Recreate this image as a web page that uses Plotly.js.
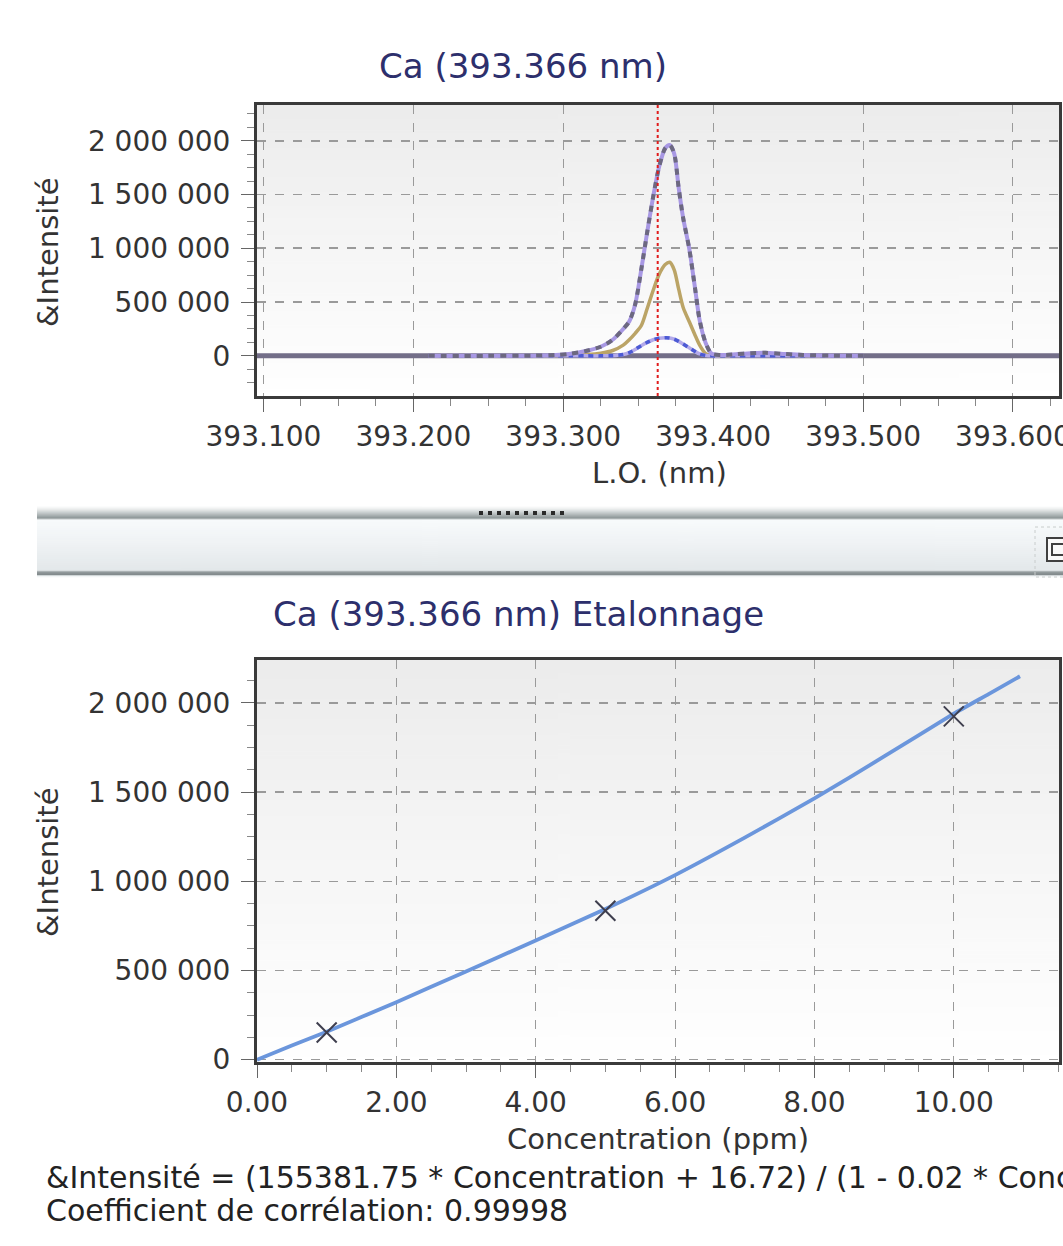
<!DOCTYPE html>
<html>
<head>
<meta charset="utf-8">
<script src="https://cdn.plot.ly/plotly-3.0.1.min.js"></script>
<style>
  html, body { margin: 0; padding: 0; background: #ffffff; }
  #chart { width: 1063px; height: 1246px; }
</style>
</head>
<body>
<div id="chart"></div>
<script>
// ---------------- DATA ----------------
// Spectrum (top chart): wavelength in nm
var wavelength = [393.210, 393.250, 393.280, 393.295, 393.305, 393.315, 393.325, 393.333, 393.340, 393.344,
                  393.348, 393.352, 393.356, 393.360, 393.364, 393.368, 393.371, 393.374, 393.377, 393.380,
                  393.384, 393.388, 393.391, 393.395, 393.399, 393.405, 393.415, 393.425, 393.435, 393.445,
                  393.460, 393.480, 393.500];
// Standard 10 ppm spectrum
var intensityStd10 = [0, 0, 2000, 8000, 20000, 45000, 85000, 150000, 250000, 320000,
                      480000, 800000, 1150000, 1480000, 1760000, 1930000, 1960000, 1880000, 1560000, 1280000,
                      1000000, 620000, 330000, 120000, 20000, 8000, 15000, 25000, 28000, 20000,
                      8000, 2000, 0];
// Standard 5 ppm spectrum
var intensityStd5 = [0, 0, 0, 2000, 5000, 12000, 25000, 50000, 100000, 150000,
                     210000, 280000, 440000, 610000, 760000, 850000, 870000, 800000, 620000, 450000,
                     320000, 190000, 100000, 20000, 0, 0, 5000, 10000, 12000, 8000,
                     3000, 0, 0];
// Standard 1 ppm spectrum
var intensityStd1 = [0, 0, 0, 0, 0, 0, 0, 2000, 12000, 30000,
                     60000, 95000, 125000, 150000, 163000, 168000, 166000, 155000, 135000, 110000,
                     75000, 40000, 18000, 4000, 0, 0, 0, 0, 0, 0,
                     0, 0, 0];
// Blank baseline (flat at zero over the full window)
var blankWavelength = [393.095, 393.631];
var blankIntensity = [0, 0];
// Analysis line position
var analysisLine = 393.363;

// Calibration (bottom chart)
var curveConc = [0, 0.5, 1, 2, 3, 4, 5, 6, 7, 8, 9, 10, 10.5, 10.95];
var curveIntensity = [0, 80000, 157000, 322000, 495000, 668000, 845000, 1035000, 1245000, 1465000,
                      1700000, 1940000, 2050000, 2150000];
var stdConc = [1, 5, 10];
var stdIntensity = [152000, 835000, 1925000];

// Texts
var topTitle = "Ca (393.366 nm)";
var bottomTitle = "Ca (393.366 nm) Etalonnage";
var yTitle = "&Intensité";
var xTitleTop = "L.O. (nm)";
var xTitleBottom = "Concentration (ppm)";
var equationText = "&Intensité = (155381.75 * Concentration + 16.72) / (1 - 0.02 * Concentration)";
var correlationText = "Coefficient de corrélation: 0.99998";

// ---------------- LAYOUT HELPERS ----------------
var W = 1063, H = 1246;
function px(x) { return x / W; }
function py(y) { return 1 - y / H; }
var FONT = "DejaVu Sans, Verdana, sans-serif";

function gradient(stops, w, h) {
  var c = document.createElement("canvas");
  c.width = w; c.height = h;
  var ctx = c.getContext("2d");
  var g = ctx.createLinearGradient(0, 0, 0, h);
  stops.forEach(function (s) { g.addColorStop(s[0], s[1]); });
  ctx.fillStyle = g;
  ctx.fillRect(0, 0, w, h);
  return c.toDataURL("image/png");
}

var plotBg = gradient([[0, "#ececec"], [0.55, "#f7f7f7"], [1, "#ffffff"]], 4, 200);
var bandBg = gradient([
  [0.00, "#ffffff"], [0.04, "#eef0f0"], [0.09, "#c9cfd0"], [0.17, "#8a9394"],
  [0.19, "#f8fbfc"], [0.50, "#f0f3f5"], [0.90, "#e3e8ea"],
  [0.91, "#9aa2a4"], [0.95, "#7f8789"], [0.97, "#eef2f3"], [1.00, "#ffffff"]
], 4, 70);

var xL = 257, xR = 1059;
var topY0 = 105, topY1 = 396;
var botY0 = 660, botY1 = 1062;

var gridCol = "#9a9a9a";
var tickFont = { family: FONT, size: 28, color: "#333333" };

function xAxisCfg(range, dtick, tick0, fmt, minorDtick, anchor) {
  return {
    domain: [px(xL), px(xR)], range: range, anchor: anchor,
    tick0: tick0, dtick: dtick, tickformat: fmt,
    ticks: "outside", ticklen: 13, tickwidth: 1, tickcolor: "#666666",
    minor: { dtick: minorDtick, ticks: "outside", ticklen: 7, tickcolor: "#888888", showgrid: false },
    showgrid: true, gridcolor: gridCol, griddash: "dash", gridwidth: 1,
    showline: true, mirror: true, linecolor: "#3a3a3a", linewidth: 3,
    zeroline: false, tickfont: tickFont, ticklabelstandoff: 0, ticklabeloverflow: "allow",
    fixedrange: true
  };
}
function yAxisCfg(domain, range, anchor) {
  return {
    domain: domain, range: range, anchor: anchor,
    tick0: 0, dtick: 500000, tickformat: ",d",
    ticks: "outside", ticklen: 13, tickwidth: 1, tickcolor: "#666666",
    minor: { dtick: 125000, ticks: "outside", ticklen: 7, tickcolor: "#888888", showgrid: false },
    showgrid: true, gridcolor: gridCol, griddash: "dash", gridwidth: 1.6,
    showline: true, mirror: true, linecolor: "#3a3a3a", linewidth: 3,
    zeroline: false, tickfont: tickFont, ticklabelstandoff: 5, fixedrange: true
  };
}

// ---------------- TRACES ----------------
var traces = [
  { x: blankWavelength, y: blankIntensity, xaxis: "x", yaxis: "y", mode: "lines",
    line: { color: "#736e88", width: 5 }, hoverinfo: "skip" },
  { x: wavelength, y: intensityStd5, xaxis: "x", yaxis: "y", mode: "lines",
    line: { color: "#bba466", width: 3.5, shape: "spline", smoothing: 0.8 } },
  { x: wavelength, y: intensityStd1, xaxis: "x", yaxis: "y", mode: "lines",
    line: { color: "#b3aaea", width: 3.5, shape: "spline", smoothing: 0.8 } },
  { x: wavelength, y: intensityStd1, xaxis: "x", yaxis: "y", mode: "lines",
    line: { color: "#4c5ad4", width: 3.5, dash: "5px,5px", shape: "spline", smoothing: 0.8 } },
  { x: wavelength, y: intensityStd10, xaxis: "x", yaxis: "y", mode: "lines",
    line: { color: "#a898e4", width: 4, shape: "spline", smoothing: 0.8 } },
  { x: wavelength, y: intensityStd10, xaxis: "x", yaxis: "y", mode: "lines",
    line: { color: "#6c6880", width: 4, dash: "6px,6px", shape: "spline", smoothing: 0.8 } },
  { x: curveConc, y: curveIntensity, xaxis: "x2", yaxis: "y2", mode: "lines",
    line: { color: "#6b96dc", width: 3.8, shape: "spline", smoothing: 0.5 } },
  { x: stdConc, y: stdIntensity, xaxis: "x2", yaxis: "y2", mode: "markers",
    marker: { symbol: "x-thin", size: 20, line: { color: "#3e3e4e", width: 2 } } }
];

// ---------------- LAYOUT ----------------
var layout = {
  width: W, height: H,
  margin: { l: 0, r: 0, t: 0, b: 0, pad: 0 },
  paper_bgcolor: "#ffffff", plot_bgcolor: "rgba(0,0,0,0)",
  showlegend: false, separators: ". ",
  font: { family: FONT, color: "#333333" },
  xaxis: xAxisCfg([393.0957, 393.6307], 0.1, 393.1, ".3f", 0.025, "y"),
  yaxis: yAxisCfg([py(topY1), py(topY0)], [-373000, 2332000], "x"),
  xaxis2: xAxisCfg([0, 11.51], 2, 0, ".2f", 0.5, "y2"),
  yaxis2: yAxisCfg([py(botY1), py(botY0)], [-13000, 2241000], "x2"),
  images: [
    { source: plotBg, xref: "paper", yref: "paper", x: px(xL), y: py(topY0),
      sizex: px(xR) - px(xL), sizey: py(topY0) - py(topY1), sizing: "stretch", layer: "below",
      xanchor: "left", yanchor: "top" },
    { source: plotBg, xref: "paper", yref: "paper", x: px(xL), y: py(botY0),
      sizex: px(xR) - px(xL), sizey: py(botY0) - py(botY1), sizing: "stretch", layer: "below",
      xanchor: "left", yanchor: "top" },
    { source: bandBg, xref: "paper", yref: "paper", x: px(37), y: py(506),
      sizex: px(1063) - px(37), sizey: py(506) - py(578), sizing: "stretch", layer: "below",
      xanchor: "left", yanchor: "top" }
  ],
  shapes: [
    { type: "line", xref: "x", yref: "y domain", x0: analysisLine, x1: analysisLine, y0: 0, y1: 1,
      line: { color: "#e01c1c", width: 2, dash: "dot" } },
    { type: "line", xref: "paper", yref: "paper", x0: px(479), x1: px(568), y0: py(513), y1: py(513),
      line: { color: "#2a2a2a", width: 4, dash: "4px,5px" } },
    { type: "rect", xref: "paper", yref: "paper", x0: px(1035), x1: px(1075), y0: py(527), y1: py(577),
      line: { color: "#c8cccc", width: 1, dash: "dot" } },
    { type: "rect", xref: "paper", yref: "paper", x0: px(1047), x1: px(1075), y0: py(538), y1: py(561),
      line: { color: "#404040", width: 2 }, fillcolor: "#fafafa" },
    { type: "rect", xref: "paper", yref: "paper", x0: px(1052), x1: px(1075), y0: py(544), y1: py(555),
      line: { color: "#404040", width: 2 } }
  ],
  annotations: [
    { text: topTitle, xref: "paper", yref: "paper", x: px(523), y: py(66), xanchor: "center", yanchor: "middle",
      showarrow: false, font: { family: FONT, size: 34, color: "#2d2f6c" } },
    { text: bottomTitle, xref: "paper", yref: "paper", x: px(518), y: py(614), xanchor: "center", yanchor: "middle",
      showarrow: false, font: { family: FONT, size: 34, color: "#2d2f6c" } },
    { text: yTitle, xref: "paper", yref: "paper", x: px(48), y: py(252), xanchor: "center", yanchor: "middle",
      textangle: -90, showarrow: false, font: { family: FONT, size: 29, color: "#333333" } },
    { text: yTitle, xref: "paper", yref: "paper", x: px(48), y: py(862), xanchor: "center", yanchor: "middle",
      textangle: -90, showarrow: false, font: { family: FONT, size: 29, color: "#333333" } },
    { text: xTitleTop, xref: "paper", yref: "paper", x: px(659), y: py(473), xanchor: "center", yanchor: "middle",
      showarrow: false, font: { family: FONT, size: 29, color: "#333333" } },
    { text: xTitleBottom, xref: "paper", yref: "paper", x: px(658), y: py(1139), xanchor: "center", yanchor: "middle",
      showarrow: false, font: { family: FONT, size: 29, color: "#333333" } },
    { text: equationText, xref: "paper", yref: "paper", x: px(44), y: py(1177), xanchor: "left", yanchor: "middle",
      showarrow: false, font: { family: FONT, size: 30, color: "#222222" } },
    { text: correlationText, xref: "paper", yref: "paper", x: px(44), y: py(1210), xanchor: "left", yanchor: "middle",
      showarrow: false, font: { family: FONT, size: 30, color: "#222222" } }
  ]
};

Plotly.newPlot("chart", traces, layout, { staticPlot: true, displayModeBar: false });
</script>
</body>
</html>
